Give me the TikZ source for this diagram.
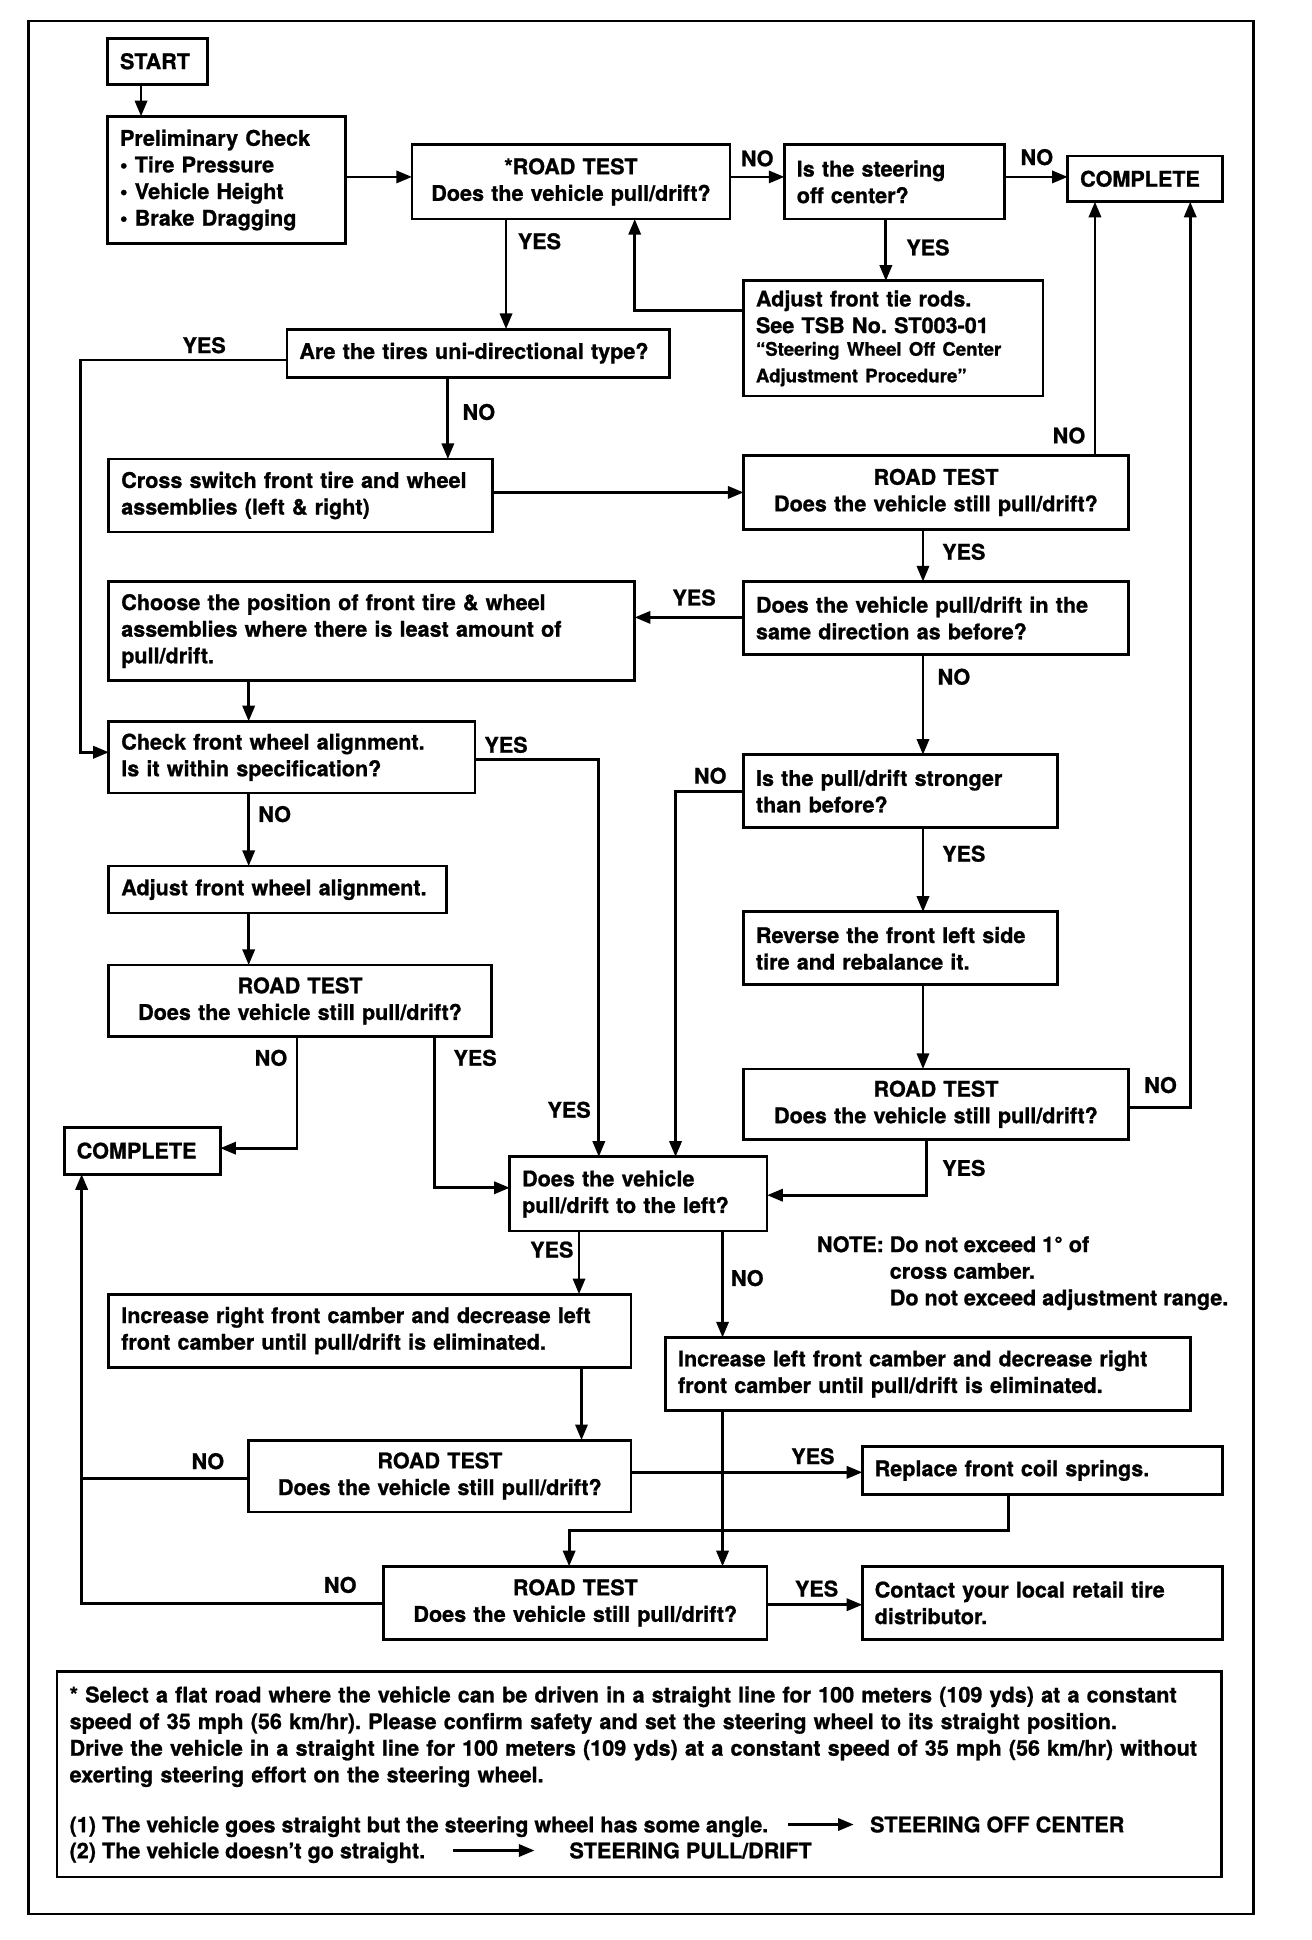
\documentclass[tikz,border=0pt]{standalone}
\usepackage{fontspec}
\setmainfont{TeX Gyre Heros}[BoldFeatures={FakeBold=1}]
\usetikzlibrary{arrows.meta}
\frenchspacing

% one pixel of the drawing
\def\px{0.025cm}

\begin{document}
\begin{tikzpicture}[x=\px, y=-\px,
    txt/.style={font=\bfseries\fontsize{12.4}{15.3}\selectfont, inner sep=0pt},
    box/.style={txt, draw, line width=1.6pt, outer sep=0pt, anchor=north west, inner xsep=10*\px, inner ysep=0pt},
    lbox/.style 2 args={box, align=left, text width=#1*\px-20*\px, minimum height=#2*\px},
    cbox/.style 2 args={box, align=center, text width=#1*\px-20*\px, minimum height=#2*\px},
    lab/.style={txt},
    flow/.style={line width=1.6pt, -{Triangle[length=9pt, width=7pt]}},
    wire/.style={line width=1.6pt},
  ]
  \useasboundingbox (0,0) rectangle (1060,1568);

  % Khung ngoai
  \draw[line width=1.4pt] (23,17) rectangle (1013,1547);

  % Cac hop
  \node[lbox={81}{37}] (start) at (87,31) {START};
  \node[lbox={192}{103}] (prelim) at (87,94) {Preliminary Check\\ • Tire Pressure\\ • Vehicle Height\\ • Brake Dragging};
  \node[cbox={257}{60}] (rt1) at (333,117) {*ROAD TEST\\ Does the vehicle pull/drift?};
  \node[lbox={178}{60}] (steer) at (634,117) {Is the steering\\ off center?};
  \node[lbox={125}{37}] (done1) at (863,126) {COMPLETE};
  \node[lbox={242}{93}] (tierod) at (601,227) {Adjust front tie rods.\\ See TSB No. ST003-01\par
    \fontsize{10.7}{13}\selectfont “Steering Wheel Off Center\\ Adjustment Procedure”};
  \node[lbox={309}{39}] (uni) at (232,266) {Are the tires uni-directional type?};
  \node[lbox={310}{59}] (cross) at (88,371) {Cross switch front tire and wheel\\ assemblies (left \& right)};
  \node[cbox={311}{60}] (rt2) at (601,368) {ROAD TEST\\ Does the vehicle still pull/drift?};
  \node[lbox={311}{59}] (same) at (601,470) {Does the vehicle pull/drift in the\\ same direction as before?};
  \node[lbox={425}{80}] (choose) at (88,470) {Choose the position of front tire \& wheel\\ assemblies where there is least amount of\\ pull/drift.};
  \node[lbox={296}{58}] (check) at (88,583) {Check front wheel alignment.\\ Is it within specification?};
  \node[lbox={254}{59}] (strong) at (601,610) {Is the pull/drift stronger\\ than before?};
  \node[lbox={273}{38}] (adjust) at (88,700) {Adjust front wheel alignment.};
  \node[lbox={254}{59}] (rev) at (601,737) {Reverse the front left side\\ tire and rebalance it.};
  \node[cbox={309}{58}] (rt3) at (88,780) {ROAD TEST\\ Does the vehicle still pull/drift?};
  \node[cbox={311}{57}] (rt4) at (601,864) {ROAD TEST\\ Does the vehicle still pull/drift?};
  \node[lbox={126}{38}] (done2) at (52,911) {COMPLETE};
  \node[lbox={208}{60}] (left) at (412,935) {Does the vehicle\\ pull/drift to the left?};
  \node[lbox={422}{59}] (incr) at (88,1046) {Increase right front camber and decrease left\\ front camber until pull/drift is eliminated.};
  \node[lbox={424}{59}] (incl) at (538,1081) {Increase left front camber and decrease right\\ front camber until pull/drift is eliminated.};
  \node[cbox={309}{58}] (rt5) at (201,1164) {ROAD TEST\\ Does the vehicle still pull/drift?};
  \node[lbox={291}{39}] (spring) at (697,1169) {Replace front coil springs.};
  \node[cbox={310}{59}] (rt6) at (310,1266) {ROAD TEST\\ Does the vehicle still pull/drift?};
  \node[lbox={291}{59}] (contact) at (697,1266) {Contact your local retail tire\\ distributor.};

  % Ghi chu
  \node[txt, anchor=base west] (caution) at (660,1012) {\begin{tabular}[t]{@{}l@{ }l@{}}
      NOTE: & Do not exceed 1° of\\
            & cross camber.\\
            & Do not exceed adjustment range.
    \end{tabular}};

  % Cac mui ten
  \draw[flow] (start.south -| 114,0) -- (prelim.north -| 114,0);
  \draw[flow] (prelim.east |- 0,143) -- (rt1.west |- 0,143);
  \draw[flow] (rt1.east |- 0,143) -- (steer.west |- 0,143);
  \draw[flow] (steer.east |- 0,143) -- (done1.west |- 0,143);
  \draw[flow] (steer.south -| 716,0) -- (tierod.north -| 716,0);
  \draw[flow] (tierod.west |- 0,251) -| (rt1.south -| 513,0);
  \draw[flow] (rt1.south -| 409,0) -- (uni.north -| 409,0);
  \draw[flow] (uni.west |- 0,291) -| (65,608) -- (check.west |- 0,608);
  \draw[flow] (uni.south -| 362,0) -- (cross.north -| 362,0);
  \draw[flow] (cross.east |- 0,398) -- (rt2.west |- 0,398);
  \draw[flow] (rt2.north -| 885,0) -- (done1.south -| 885,0);
  \draw[flow] (rt2.south -| 746,0) -- (same.north -| 746,0);
  \draw[flow] (same.west |- 0,499) -- (choose.east |- 0,499);
  \draw[flow] (choose.south -| 201,0) -- (check.north -| 201,0);
  \draw[flow] (check.east |- 0,614) -| (left.north -| 484,0);
  \draw[flow] (check.south -| 201,0) -- (adjust.north -| 201,0);
  \draw[flow] (adjust.south -| 201,0) -- (rt3.north -| 201,0);
  \draw[flow] (rt3.south -| 240,0) |- (done2.east |- 0,928);
  \draw[flow] (rt3.south -| 351,0) |- (left.west |- 0,960);
  \draw[flow] (same.south -| 746,0) -- (strong.north -| 746,0);
  \draw[flow] (strong.west |- 0,640) -| (left.north -| 546,0);
  \draw[flow] (strong.south -| 746,0) -- (rev.north -| 746,0);
  \draw[flow] (rev.south -| 746,0) -- (rt4.north -| 746,0);
  \draw[flow] (rt4.east |- 0,895) -| (done1.south -| 962,0);
  \draw[flow] (rt4.south -| 749,0) |- (left.east |- 0,966);
  \draw[flow] (left.south -| 468,0) -- (incr.north -| 468,0);
  \draw[flow] (left.south -| 584,0) -- (incl.north -| 584,0);
  \draw[flow] (incr.south -| 470,0) -- (rt5.north -| 470,0);
  \draw[flow] (incl.south -| 584,0) -- (rt6.north -| 584,0);
  \draw[flow] (rt5.east |- 0,1190) -- (spring.west |- 0,1190);
  \draw[flow] (spring.south -| 815,0) |- (460,1237) -- (rt6.north -| 460,0);
  \coordinate (join) at (66,1195);
  \draw[wire] (rt5.west |- join) -- (join);
  \draw[flow] (rt6.west |- 0,1296) -| (done2.south -| 66,0);
  \draw[flow] (rt6.east |- 0,1297) -- (contact.west |- 0,1297);

  % Nhan YES / NO
  \node[lab] (yes1) at (436,195) {YES};
  \node[lab] (no1) at (612,128) {NO};
  \node[lab] (no2) at (838,127) {NO};
  \node[lab] (yes2) at (750,200) {YES};
  \node[lab] (yes3) at (165,279) {YES};
  \node[lab] (no3) at (387,333) {NO};
  \node[lab] (no4) at (864,352) {NO};
  \node[lab] (yes4) at (779,446) {YES};
  \node[lab] (yes5) at (561,483) {YES};
  \node[lab] (no5) at (771,547) {NO};
  \node[lab] (yes6) at (409,602) {YES};
  \node[lab] (no6) at (574,627) {NO};
  \node[lab] (no7) at (222,658) {NO};
  \node[lab] (yes7) at (779,690) {YES};
  \node[lab] (no8) at (219,855) {NO};
  \node[lab] (yes8) at (384,855) {YES};
  \node[lab] (yes9) at (460,897) {YES};
  \node[lab] (no9) at (938,877) {NO};
  \node[lab] (yes10) at (779,944) {YES};
  \node[lab] (yes11) at (446,1010) {YES};
  \node[lab] (no10) at (604,1033) {NO};
  \node[lab] (no11) at (168,1181) {NO};
  \node[lab] (yes12) at (657,1177) {YES};
  \node[lab] (no12) at (275,1281) {NO};
  \node[lab] (yes13) at (660,1284) {YES};

  % Hop chu thich
  \node[box, minimum width=941*\px, minimum height=166*\px] (notebox) at (46,1351) {};
  \node[txt, anchor=base west, align=left, text width=920*\px] (notetext) at (56,1376) {%
    * Select a flat road where the vehicle can be driven in a straight line for 100 meters (109 yds) at a constant\\
    speed of 35 mph (56 km/hr). Please confirm safety and set the steering wheel to its straight position.\\
    Drive the vehicle in a straight line for 100 meters (109 yds) at a constant speed of 35 mph (56 km/hr) without\\
    exerting steering effort on the steering wheel.};
  \node[txt, anchor=base west] (case1) at (56,1481) {(1) The vehicle goes straight but the steering wheel has some angle.};
  \node[txt, anchor=base west] (offc) at (703,1481) {STEERING OFF CENTER};
  \node[txt, anchor=base west] (case2) at (56,1502) {(2) The vehicle doesn’t go straight.};
  \node[txt, anchor=base west] (pull) at (460,1502) {STEERING PULL/DRIFT};
  \draw[flow, shorten <=16*\px, shorten >=13*\px] (case1.east |- offc.west) -- (offc.west);
  \draw[flow, shorten <=22*\px, shorten >=28*\px] (case2.east |- pull.west) -- (pull.west);
\end{tikzpicture}
\end{document}
